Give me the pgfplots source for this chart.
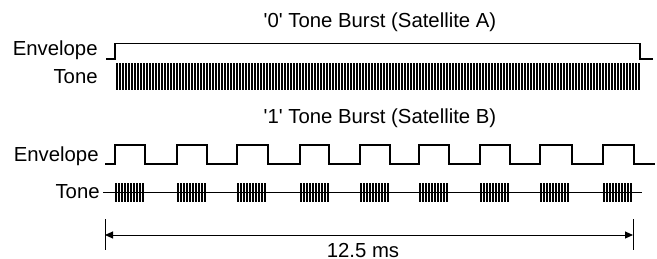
\documentclass[border=0pt]{standalone}
\usepackage{pgfplots}
\pgfplotsset{compat=1.18}
\usepackage{pgfplotstable}
\usepackage{fontspec}
\setmainfont{Liberation Sans}[Ligatures=TeXOff]
\usetikzlibrary{arrows.meta}

\pgfplotstableread[row sep=\\]{
x y\\
117 76.5\\ 120 76.5\\ 123 76.5\\ 126 76.5\\ 129 76.5\\ 132 76.5\\ 135 76.5\\ 138 76.5\\ 141 76.5\\ 144 76.5\\
147 76.5\\ 150 76.5\\ 153 76.5\\ 156 76.5\\ 159 76.5\\ 162 76.5\\ 165 76.5\\ 168 76.5\\ 171 76.5\\ 174 76.5\\
177 76.5\\ 180 76.5\\ 183 76.5\\ 186 76.5\\ 189 76.5\\ 192 76.5\\ 195 76.5\\ 198 76.5\\ 201 76.5\\ 204 76.5\\
207 76.5\\ 210 76.5\\ 213 76.5\\ 216 76.5\\ 219 76.5\\ 222 76.5\\ 225 76.5\\ 228 76.5\\ 231 76.5\\ 234 76.5\\
237 76.5\\ 240 76.5\\ 243 76.5\\ 246 76.5\\ 249 76.5\\ 252 76.5\\ 255 76.5\\ 258 76.5\\ 261 76.5\\ 264 76.5\\
267 76.5\\ 270 76.5\\ 273 76.5\\ 276 76.5\\ 279 76.5\\ 282 76.5\\ 285 76.5\\ 288 76.5\\ 291 76.5\\ 294 76.5\\
297 76.5\\ 300 76.5\\ 303 76.5\\ 306 76.5\\ 309 76.5\\ 312 76.5\\ 315 76.5\\ 318 76.5\\ 321 76.5\\ 324 76.5\\
327 76.5\\ 330 76.5\\ 333 76.5\\ 336 76.5\\ 339 76.5\\ 342 76.5\\ 345 76.5\\ 348 76.5\\ 351 76.5\\ 354 76.5\\
357 76.5\\ 360 76.5\\ 363 76.5\\ 366 76.5\\ 369 76.5\\ 372 76.5\\ 375 76.5\\ 378 76.5\\ 381 76.5\\ 384 76.5\\
387 76.5\\ 390 76.5\\ 393 76.5\\ 396 76.5\\ 399 76.5\\ 402 76.5\\ 405 76.5\\ 408 76.5\\ 411 76.5\\ 414 76.5\\
417 76.5\\ 420 76.5\\ 423 76.5\\ 426 76.5\\ 429 76.5\\ 432 76.5\\ 435 76.5\\ 438 76.5\\ 441 76.5\\ 444 76.5\\
447 76.5\\ 450 76.5\\ 453 76.5\\ 456 76.5\\ 459 76.5\\ 462 76.5\\ 465 76.5\\ 468 76.5\\ 471 76.5\\ 474 76.5\\
477 76.5\\ 480 76.5\\ 483 76.5\\ 486 76.5\\ 489 76.5\\ 492 76.5\\ 495 76.5\\ 498 76.5\\ 501 76.5\\ 504 76.5\\
507 76.5\\ 510 76.5\\ 513 76.5\\ 516 76.5\\ 519 76.5\\ 522 76.5\\ 525 76.5\\ 528 76.5\\ 531 76.5\\ 534 76.5\\
537 76.5\\ 540 76.5\\ 543 76.5\\ 546 76.5\\ 549 76.5\\ 552 76.5\\ 555 76.5\\ 558 76.5\\ 561 76.5\\ 564 76.5\\
567 76.5\\ 570 76.5\\ 573 76.5\\ 576 76.5\\ 579 76.5\\ 582 76.5\\ 585 76.5\\ 588 76.5\\ 591 76.5\\ 594 76.5\\
597 76.5\\ 600 76.5\\ 603 76.5\\ 606 76.5\\ 609 76.5\\ 612 76.5\\ 615 76.5\\ 618 76.5\\ 621 76.5\\ 624 76.5\\
627 76.5\\ 630 76.5\\ 633 76.5\\ 636 76.5\\ 639 76.5\\
}\toneA

\pgfplotstableread[row sep=\\]{
x y\\
116 192.5\\ 119 192.5\\ 122 192.5\\ 125 192.5\\ 128 192.5\\ 131 192.5\\ 134 192.5\\ 137 192.5\\ 140 192.5\\ 143 192.5\\
178 192.5\\ 181 192.5\\ 184 192.5\\ 187 192.5\\ 190 192.5\\ 193 192.5\\ 196 192.5\\ 199 192.5\\ 202 192.5\\ 205 192.5\\
238 192.5\\ 241 192.5\\ 244 192.5\\ 247 192.5\\ 250 192.5\\ 253 192.5\\ 256 192.5\\ 259 192.5\\ 262 192.5\\ 265 192.5\\
301 192.5\\ 304 192.5\\ 307 192.5\\ 310 192.5\\ 313 192.5\\ 316 192.5\\ 319 192.5\\ 322 192.5\\ 325 192.5\\ 328 192.5\\
361 192.5\\ 364 192.5\\ 367 192.5\\ 370 192.5\\ 373 192.5\\ 376 192.5\\ 379 192.5\\ 382 192.5\\ 385 192.5\\ 388 192.5\\
420 192.5\\ 423 192.5\\ 426 192.5\\ 429 192.5\\ 432 192.5\\ 435 192.5\\ 438 192.5\\ 441 192.5\\ 444 192.5\\ 447 192.5\\
481 192.5\\ 484 192.5\\ 487 192.5\\ 490 192.5\\ 493 192.5\\ 496 192.5\\ 499 192.5\\ 502 192.5\\ 505 192.5\\ 508 192.5\\
541 192.5\\ 544 192.5\\ 547 192.5\\ 550 192.5\\ 553 192.5\\ 556 192.5\\ 559 192.5\\ 562 192.5\\ 565 192.5\\ 568 192.5\\
604 192.5\\ 607 192.5\\ 610 192.5\\ 613 192.5\\ 616 192.5\\ 619 192.5\\ 622 192.5\\ 625 192.5\\ 628 192.5\\ 631 192.5\\
}\toneB

\begin{document}
\begin{tikzpicture}[font=\fontsize{10.2}{12}\selectfont]
\begin{axis}[
  width=328.5bp, height=129.5bp, scale only axis,
  xmin=0, xmax=657, ymin=0, ymax=259, y dir=reverse,
  axis lines=none, clip=false, ticks=none,
]
% Envelope A
\addplot[black, line width=0.75pt, mark=none] coordinates {
  (106,59) (115,59) (115,43.5) (640,43.5) (640,59) (653,59)};
% Tone A
\addplot[mark=none, draw=none, forget plot,
  error bars/.cd, y dir=both, y fixed=13.5, error mark=none,
  error bar style={draw=black, line width=0.6pt}] table[x=x,y=y] {\toneA};
% Envelope B
\addplot[black, line width=0.75pt, mark=none] coordinates {
  (105,164) (115,164) (115,145) (145,145) (145,164)
  (177,164) (177,145) (207,145) (207,164)
  (237,164) (237,145) (268,145) (268,164)
  (300,164) (300,145) (329,145) (329,164)
  (360,164) (360,145) (390,145) (390,164)
  (419,164) (419,145) (449,145) (449,164)
  (480,164) (480,145) (510,145) (510,164)
  (540,164) (540,145) (572,145) (572,164)
  (603,164) (603,145) (634,145) (634,164) (655,164)};
% Tone B baseline
\addplot[black, line width=0.5pt, mark=none] coordinates {(103,192.5) (642,192.5)};
% Tone B bursts
\addplot[mark=none, draw=none, forget plot,
  error bars/.cd, y dir=both, y fixed=9.5, error mark=none,
  error bar style={draw=black, line width=0.7pt}] table[x=x,y=y] {\toneB};
% Dimension arrow
\addplot[black, line width=0.5pt, mark=none, {Triangle[length=4bp,width=3.5bp]}-{Triangle[length=4bp,width=3.5bp]}]
  coordinates {(105,235) (633,235)};
\addplot[black, line width=0.5pt, mark=none] coordinates {(105,219) (105,250)};
\addplot[black, line width=0.5pt, mark=none] coordinates {(633,219) (633,250)};
% Text
\node[anchor=base, inner sep=0] at (axis cs:380,27) {'0' Tone Burst (Satellite A)};
\node[anchor=base, inner sep=0] at (axis cs:380,123) {'1' Tone Burst (Satellite B)};
\node[anchor=base east, inner sep=0] at (axis cs:98,55) {Envelope};
\node[anchor=base east, inner sep=0] at (axis cs:98,83) {Tone};
\node[anchor=base east, inner sep=0] at (axis cs:99,161) {Envelope};
\node[anchor=base east, inner sep=0] at (axis cs:100,198) {Tone};
\node[anchor=base, inner sep=0] at (axis cs:363,257) {12.5 ms};
\end{axis}
\pgfresetboundingbox
\path (current axis.south west) rectangle (current axis.north east);
\end{tikzpicture}
\end{document}
